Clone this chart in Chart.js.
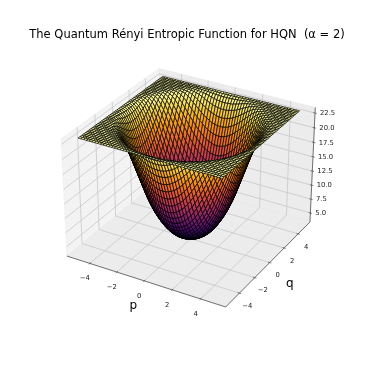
<!DOCTYPE html>
<html>
<head>
<meta charset="utf-8">
<style>
  html, body { margin: 0; padding: 0; background: #fff; }
  #box { width: 366px; height: 366px; }
</style>
<script src="https://cdn.jsdelivr.net/npm/chart.js@4"></script>
</head>
<body>
<div id="box"><canvas id="chart"></canvas></div>
<script>
const chartTitle = "The Quantum Rényi Entropic Function for HQN  (α = 2)";

// mesh positions along p and q
const gridAxis = [-5, -4.8, -4.6, -4.4, -4.2, -4, -3.8, -3.6, -3.4, -3.2, -3, -2.8, -2.6, -2.4, -2.2, -2, -1.8, -1.6, -1.4, -1.2, -1, -0.8, -0.6, -0.4, -0.2, 0, 0.2, 0.4, 0.6, 0.8, 1, 1.2, 1.4, 1.6, 1.8, 2, 2.2, 2.4, 2.6, 2.8, 3, 3.2, 3.4, 3.6, 3.8, 4, 4.2, 4.4, 4.6, 4.8, 5];

// surface height, the bowl is symmetric so only one
// octant is kept: row = larger of |p|,|q| in 0.2 steps, column = smaller one
const zOctant = [
  [3.9],
  [3.93, 3.97],
  [4.03, 4.07, 4.17],
  [4.2, 4.24, 4.33, 4.49],
  [4.42, 4.45, 4.55, 4.7, 4.93],
  [4.7, 4.74, 4.84, 4.99, 5.23, 5.54],
  [5.05, 5.09, 5.19, 5.37, 5.62, 5.95, 6.37],
  [5.5, 5.54, 5.65, 5.84, 6.09, 6.44, 6.87, 7.38],
  [6.05, 6.09, 6.21, 6.4, 6.66, 7.02, 7.45, 7.99, 8.59],
  [6.7, 6.75, 6.87, 7.07, 7.34, 7.71, 8.15, 8.68, 9.29, 10.05],
  [7.45, 7.49, 7.62, 7.82, 8.1, 8.47, 8.93, 9.48, 10.14, 10.89, 11.75],
  [8.3, 8.35, 8.47, 8.68, 8.97, 9.34, 9.83, 10.4, 11.07, 11.84, 12.77, 13.76],
  [9.25, 9.29, 9.44, 9.66, 9.97, 10.35, 10.85, 11.42, 12.14, 12.95, 13.85, 14.81, 15.81],
  [10.35, 10.4, 10.53, 10.76, 11.07, 11.47, 12.0, 12.61, 13.33, 14.12, 14.98, 15.89, 16.85, 17.85],
  [11.55, 11.61, 11.75, 12.0, 12.33, 12.77, 13.28, 13.89, 14.57, 15.33, 16.14, 17.01, 17.94, 18.88, 19.79],
  [12.95, 12.99, 13.14, 13.39, 13.7, 14.12, 14.63, 15.2, 15.85, 16.56, 17.34, 18.17, 19.02, 19.86, 20.67, 21.45],
  [14.4, 14.44, 14.57, 14.81, 15.11, 15.5, 15.98, 16.52, 17.14, 17.82, 18.56, 19.3, 20.05, 20.79, 21.5, 22.13, 22.61],
  [15.85, 15.89, 16.02, 16.23, 16.52, 16.89, 17.34, 17.85, 18.45, 19.06, 19.69, 20.35, 21.02, 21.63, 22.21, 22.64, 22.94, 23.11],
  [17.3, 17.34, 17.46, 17.66, 17.94, 18.29, 18.71, 19.15, 19.66, 20.19, 20.76, 21.35, 21.85, 22.33, 22.72, 22.96, 23.11, 23.16, 23.19],
  [18.75, 18.79, 18.88, 19.06, 19.3, 19.6, 19.95, 20.35, 20.79, 21.27, 21.7, 22.15, 22.51, 22.86, 23.0, 23.12, 23.17, 23.19, 23.2, 23.2],
  [20.05, 20.07, 20.17, 20.31, 20.53, 20.79, 21.11, 21.43, 21.76, 22.13, 22.43, 22.74, 22.93, 23.06, 23.13, 23.18, 23.19, 23.2, 23.2, 23.2, 23.2],
  [21.25, 21.27, 21.35, 21.45, 21.61, 21.81, 22.05, 22.29, 22.51, 22.75, 22.92, 23.03, 23.12, 23.16, 23.19, 23.2, 23.2, 23.2, 23.2, 23.2, 23.2, 23.2],
  [22.2, 22.21, 22.26, 22.33, 22.43, 22.56, 22.72, 22.87, 22.95, 23.04, 23.11, 23.15, 23.18, 23.19, 23.2, 23.2, 23.2, 23.2, 23.2, 23.2, 23.2, 23.2, 23.2],
  [22.85, 22.86, 22.87, 22.9, 22.94, 22.98, 23.04, 23.1, 23.13, 23.16, 23.18, 23.19, 23.2, 23.2, 23.2, 23.2, 23.2, 23.2, 23.2, 23.2, 23.2, 23.2, 23.2, 23.2],
  [23.1, 23.1, 23.11, 23.12, 23.13, 23.14, 23.16, 23.18, 23.19, 23.19, 23.2, 23.2, 23.2, 23.2, 23.2, 23.2, 23.2, 23.2, 23.2, 23.2, 23.2, 23.2, 23.2, 23.2, 23.2],
  [23.18, 23.18, 23.18, 23.18, 23.19, 23.19, 23.19, 23.2, 23.2, 23.2, 23.2, 23.2, 23.2, 23.2, 23.2, 23.2, 23.2, 23.2, 23.2, 23.2, 23.2, 23.2, 23.2, 23.2, 23.2, 23.2],
];

const pTicks = [-4, -2, 0, 2, 4];
const qTicks = [-4, -2, 0, 2, 4];
const zTicks = [5, 7.5, 10, 12.5, 15, 17.5, 20, 22.5];
const pTickLabels = ["\u22124", "\u22122", "0", "2", "4"];
const qTickLabels = ["\u22124", "\u22122", "0", "2", "4"];
const zTickLabels = ["5.0", "7.5", "10.0", "12.5", "15.0", "17.5", "20.0", "22.5"];

// axis limits of the box
const xyLimit = 5.73;
const zLow = 3.35;
const zHigh = 23.45;

// inferno
const inferno = [[0,0,4],[22,11,57],[66,10,104],[106,23,110],[147,38,103],[188,55,84],[221,81,58],[243,120,25],[252,165,10],[246,215,70],[252,255,164]];

// CAMERA (same numbers matplotlib uses by default)
const elev = 30 * Math.PI / 180;
const azim = -60 * Math.PI / 180;
const dist = 10;
const boxK = 1.8294640721620434 * 25 / 24 / Math.hypot(4, 4, 3);
const boxXY = 4 * boxK;
const boxZ = 3 * boxK;
const nv = [Math.cos(elev) * Math.cos(azim), Math.cos(elev) * Math.sin(azim), Math.sin(elev)];
const uv = [-Math.sin(azim), Math.cos(azim), 0];
const vv = [nv[1] * uv[2] - nv[2] * uv[1], nv[2] * uv[0] - nv[0] * uv[2], nv[0] * uv[1] - nv[1] * uv[0]];

function dot(a, b) {
  return a[0] * b[0] + a[1] * b[1] + a[2] * b[2];
}

function project(p, q, z) {
  const d = [
    (p / xyLimit) * boxXY / 2,
    (q / xyLimit) * boxXY / 2,
    ((z - zLow) / (zHigh - zLow) - 0.5) * boxZ,
  ];
  const depth = dist - dot(nv, d);
  return { x: dot(uv, d) / depth, y: dot(vv, d) / depth, depth };
}

function surfaceZ(i, j) {
  const a = Math.abs(i - 25);
  const b = Math.abs(j - 25);
  return zOctant[Math.max(a, b)][Math.min(a, b)];
}

function infernoColor(t) {
  const s = Math.min(Math.max(t, 0), 1) * (inferno.length - 1);
  const k = Math.min(Math.floor(s), inferno.length - 2);
  const f = s - k;
  const c = [0, 1, 2].map((n) => Math.round(inferno[k][n] + (inferno[k + 1][n] - inferno[k][n]) * f));
  return `rgb(${c[0]},${c[1]},${c[2]})`;
}

// polygon dataset type, the points come from the x/y scales like any other
class PolyController extends Chart.ScatterController {
  draw() {
    const ds = this.getDataset();
    const pts = this.getMeta().data;
    const ctx = this.chart.ctx;
    ctx.save();
    ctx.beginPath();
    pts.forEach((pt, i) => {
      if (i === 0) ctx.moveTo(pt.x, pt.y);
      else ctx.lineTo(pt.x, pt.y);
    });
    if (ds.fillColor) {
      ctx.closePath();
      ctx.fillStyle = ds.fillColor;
      ctx.fill();
    }
    if (ds.edgeWidth) {
      ctx.lineWidth = ds.edgeWidth;
      ctx.strokeStyle = ds.edgeColor;
      ctx.stroke();
    }
    ctx.restore();
  }
}
PolyController.id = "poly";
PolyController.defaults = Chart.ScatterController.defaults;
Chart.register(PolyController);

function poly(corners, fillColor, edgeColor, edgeWidth) {
  return {
    type: "poly",
    data: corners.map((c) => {
      const pr = project(c[0], c[1], c[2]);
      return { x: pr.x, y: pr.y };
    }),
    fillColor,
    edgeColor,
    edgeWidth,
    pointRadius: 0,
  };
}

// SURFACE, farthest cell is painted first, so nearest goes first in the list
const cells = [];
for (let i = 0; i < gridAxis.length - 1; i++) {
  for (let j = 0; j < gridAxis.length - 1; j++) {
    const zs = [surfaceZ(i, j), surfaceZ(i + 1, j), surfaceZ(i + 1, j + 1), surfaceZ(i, j + 1)];
    const corners = [
      [gridAxis[i], gridAxis[j], zs[0]],
      [gridAxis[i + 1], gridAxis[j], zs[1]],
      [gridAxis[i + 1], gridAxis[j + 1], zs[2]],
      [gridAxis[i], gridAxis[j + 1], zs[3]],
    ];
    const zMean = (zs[0] + zs[1] + zs[2] + zs[3]) / 4;
    const depth = corners.reduce((sum, c) => sum + project(c[0], c[1], c[2]).depth, 0) / 4;
    cells.push({ corners, depth, color: infernoColor((zMean - 3.9) / (23.2 - 3.9)) });
  }
}
cells.sort((a, b) => a.depth - b.depth);

const datasets = cells.map((c) => poly(c.corners, c.color, "#000", 0.7));

// BOX: axis lines and ticks
const L = xyLimit;
const axisColor = "#3a3a3a";
const gridColor = "#c8c8c8";
pTicks.forEach((t) => datasets.push(poly([[t, -L - 0.12, zLow], [t, -L + 0.12, zLow]], null, axisColor, 0.6)));
qTicks.forEach((t) => datasets.push(poly([[L + 0.12, t, zLow], [L - 0.12, t, zLow]], null, axisColor, 0.6)));
zTicks.forEach((t) => datasets.push(poly([[L + 0.12, L, t], [L - 0.12, L, t]], null, axisColor, 0.6)));
datasets.push(poly([[-L, -L, zLow], [L, -L, zLow]], null, axisColor, 0.7));
datasets.push(poly([[L, -L, zLow], [L, L, zLow]], null, axisColor, 0.7));
datasets.push(poly([[L, L, zLow], [L, L, zHigh]], null, axisColor, 0.7));

// grid on the three panes
pTicks.forEach((t) => datasets.push(poly([[t, -L, zLow], [t, L, zLow], [t, L, zHigh]], null, gridColor, 0.8)));
qTicks.forEach((t) => datasets.push(poly([[L, t, zLow], [-L, t, zLow], [-L, t, zHigh]], null, gridColor, 0.8)));
zTicks.forEach((t) => datasets.push(poly([[-L, -L, t], [-L, L, t], [L, L, t]], null, gridColor, 0.8)));

// panes
datasets.push(poly([[-L, -L, zLow], [L, -L, zLow], [L, L, zLow], [-L, L, zLow]], "#ececec", "#e4e4e4", 0.5));
datasets.push(poly([[-L, L, zLow], [L, L, zLow], [L, L, zHigh], [-L, L, zHigh]], "#ececec", "#e4e4e4", 0.5));
datasets.push(poly([[-L, -L, zLow], [-L, L, zLow], [-L, L, zHigh], [-L, -L, zHigh]], "#f3f3f3", "#e8e8e8", 0.5));

// tick labels and axis names sit on the projected axes
const axisText = {
  id: "axisText",
  afterDraw(chart) {
    const { ctx, scales } = chart;
    const at = (p, q, z) => {
      const pr = project(p, q, z);
      return [scales.x.getPixelForValue(pr.x), scales.y.getPixelForValue(pr.y)];
    };
    ctx.save();
    ctx.fillStyle = "#222";
    ctx.font = "6.8px 'DejaVu Sans'";
    ctx.textBaseline = "middle";
    ctx.textAlign = "center";
    pTicks.forEach((t, i) => {
      const xy = at(t, -L, zLow);
      ctx.fillText(pTickLabels[i], xy[0] - 5, xy[1] + 15);
    });
    qTicks.forEach((t, i) => {
      const xy = at(L, t, zLow);
      ctx.fillText(qTickLabels[i], xy[0] + 8, xy[1] + 13);
    });
    ctx.textAlign = "left";
    zTicks.forEach((t, i) => {
      const xy = at(L, L, t);
      ctx.fillText(zTickLabels[i], xy[0] + 5, xy[1] + 0.5);
    });
    ctx.fillStyle = "#000";
    ctx.font = "12px 'DejaVu Sans'";
    ctx.textAlign = "center";
    const pName = at(0, -L, zLow);
    ctx.fillText("p", pName[0] - 11, pName[1] + 25);
    const qName = at(L, 0, zLow);
    ctx.fillText("q", qName[0] + 20, qName[1] + 21);
    ctx.restore();
  },
};

const scaleX = 1527;
const scaleY = 1500;
const originX = 190.7;
const originY = 182;
const titleBottom = 51;
const leftPad = 8;

new Chart(document.getElementById("chart"), {
  type: "scatter",
  data: { datasets },
  plugins: [axisText],
  options: {
    responsive: true,
    maintainAspectRatio: false,
    animation: false,
    layout: { padding: { left: leftPad, right: 0, top: 0, bottom: 0 } },
    elements: { point: { radius: 0 } },
    events: [],
    plugins: {
      legend: { display: false },
      tooltip: { enabled: false },
      title: {
        display: true,
        fullSize: false,
        text: chartTitle,
        color: "#000",
        font: { family: "'DejaVu Sans'", size: 11.5, weight: "normal", lineHeight: 1 },
        padding: { top: 29, bottom: 10.5 },
      },
    },
    scales: {
      x: { type: "linear", display: false, min: (leftPad - originX) / scaleX, max: (366 - originX) / scaleX },
      y: { type: "linear", display: false, min: (originY - 366) / scaleY, max: (originY - titleBottom) / scaleY },
    },
  },
});
</script>
</body>
</html>
